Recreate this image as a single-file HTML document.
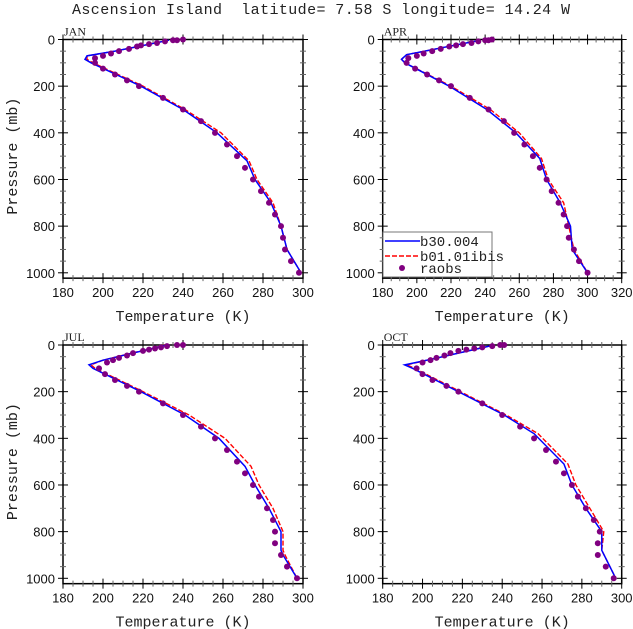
<!DOCTYPE html>
<html><head><meta charset="utf-8"><style>
body{margin:0;background:#fff;width:633px;height:629px;overflow:hidden}
svg{display:block}
</style></head><body>
<svg id="chart" width="633" height="629" xmlns="http://www.w3.org/2000/svg" font-family="Liberation Sans, sans-serif">
<text x="321" y="14" text-anchor="middle" font-family="Liberation Mono, monospace" font-size="15" fill="#222" style="white-space:pre" textLength="498" lengthAdjust="spacing">Ascension Island  latitude= 7.58 S longitude= 14.24 W</text>
</svg>
<script>
const months = ["JAN","APR","JUL","OCT"];
const tempMin = [180,180,180,180];
const tempMax = [300,320,300,300];
// raobs
const obsP = [
 [0,3,3,8,15,20,25,30,40,50,60,70,80,100,125,150,175,200,250,300,350,400,450,500,550,600,650,700,750,800,850,900,950,1000],
 [0,3,3,8,15,20,25,30,40,50,60,70,80,100,125,150,175,200,250,300,350,400,450,500,550,600,650,700,750,800,850,900,950,1000],
 [0,0,5,10,15,20,25,35,45,55,65,75,100,125,150,175,200,250,300,350,400,450,500,550,600,650,700,750,800,850,900,950,1000],
 [0,0,5,10,15,20,25,35,45,55,65,75,100,125,150,175,200,250,300,350,400,450,500,550,600,650,700,750,800,850,900,950,1000]
];
const obsT = [
 [240,237,235,231,227,223,219,217,213,208,204,200,196,196,200,206,212,218,230,240,249,256,262,267,271,275,279,283,286,289,290,291,294,298],
 [244,242,240,236,232,227,223,219,214,209,204,200,195,194,199,206,213,220,231,242,251,257,263,268,272,276,279,283,286,288,289,292,295,300],
 [240,237,232,229,226,223,220,215,212,208,205,202,198,201,206,212,218,230,240,249,256,262,267,271,275,278,282,285,286,286,289,292,297],
 [241,239,235,230,226,222,218,214,211,207,204,200,197,200,205,212,218,230,240,249,256,262,267,271,275,278,282,286,289,288,288,292,296]
];
// models
const modP = [
 [3,50,70,85,100,200,300,400,520,600,700,800,900,1000],
 [5,65,85,100,200,300,400,510,600,700,800,900,1000],
 [0,65,85,100,200,300,400,520,600,700,800,880,900,1000],
 [0,60,85,100,200,300,380,510,600,700,800,880,1000]
];
const blueT = [
 [233,206,192,191,194,219,240,257,272,276,284,289,292,299],
 [236,194,191,193,219,241,258,272,276,284,290,291,300],
 [232,200,193,195,219,241,258,271,276,283,289,289,290,297],
 [236,205,191,195,218,241,256,271,275,282,290,290,297]
];
const redT = [
 [233,206,192,192,195,220,241,259,273,277,285,289,292,299],
 [236,194,191,193,220,243,260,273,277,286,289,292,300],
 [231,200,194,196,220,243,261,274,278,285,290,290,291,297],
 [236,205,192,196,219,242,258,273,277,284,291,290,297]
];
const pTicks = [0,200,400,600,800,1000];

const svg = document.getElementById('chart');
const NS = "http://www.w3.org/2000/svg";
function mk(tag, attrs, parent){
  const e = document.createElementNS(NS, tag);
  for (const k in attrs) e.setAttribute(k, attrs[k]);
  (parent||svg).appendChild(e);
  return e;
}
const panels = [
 {x0:63, x1:303, y0:39.5},
 {x0:382.7, x1:621.7, y0:39.5},
 {x0:63, x1:303, y0:345},
 {x0:382.7, x1:621.7, y0:345}
];
const pScale = 0.2333;
panels.forEach((pn, i) => {
  const g = mk('g', {});
  
  
  const xs = t => pn.x0 + (t - tempMin[i]) / (tempMax[i] - tempMin[i]) * (pn.x1 - pn.x0);
  const ys = p => pn.y0 + p * pScale;
  const yb = ys(1023);
  const frame = mk('rect', {x:pn.x0, y:pn.y0, width:pn.x1-pn.x0, height:yb-pn.y0, fill:'none', stroke:'#000', 'stroke-width':1.5}, g);
  
  
  for (let t = tempMin[i]; t <= tempMax[i]; t += 5) {
    const major = (t % 20 === 0);
    const L = major ? 5 : 3;
    const x = xs(t);
    mk('line', {x1:x, x2:x, y1:yb-L, y2:yb+L, stroke: major?'#000':'#666', 'stroke-width':1}, g);
    mk('line', {x1:x, x2:x, y1:pn.y0-L, y2:pn.y0+L, stroke: major?'#000':'#666', 'stroke-width':1}, g);
    if (major) {
      const tl = mk('text', {x:x, y:yb+19, 'text-anchor':'middle', 'font-size':13, fill:'#111'}, g);
      tl.textContent = t;
      
      
    }
  }
  for (let p = 0; p <= 1000; p += 50) {
    const major = (p % 200 === 0);
    const L = major ? 5 : 3;
    const y = ys(p);
    mk('line', {x1:pn.x0-L, x2:pn.x0+L, y1:y, y2:y, stroke: major?'#000':'#666', 'stroke-width':1}, g);
    mk('line', {x1:pn.x1-L, x2:pn.x1+L, y1:y, y2:y, stroke: major?'#000':'#666', 'stroke-width':1}, g);
  }
  pTicks.forEach(p => {
    const tl = mk('text', {x:pn.x0-8, y:ys(p)+5, 'text-anchor':'end', 'font-size':13, fill:'#111'}, g);
    tl.textContent = p;
    
    
  });
  const ml = mk('text', {x:pn.x0+1, y:pn.y0-4, 'font-size':12, 'font-family':'Liberation Serif, serif', fill:'#222'}, g);
  ml.textContent = months[i];
  
  
  const xt = mk('text', {x:(pn.x0+pn.x1)/2, y:yb+43, 'text-anchor':'middle', 'font-size':15, 'font-family':'Liberation Mono, monospace', fill:'#222'}, g);
  xt.textContent = 'Temperature (K)';
  
  
  if (i % 2 === 0) {
    const cy = ys(500);
    const yt = mk('text', {x:0, y:0, transform:`translate(17,${cy}) rotate(-90)`, 'text-anchor':'middle', 'font-size':15, 'font-family':'Liberation Mono, monospace', fill:'#222'}, g);
    yt.textContent = 'Pressure (mb)';
    
    
  }
  const rp = mk('polyline', {points: modP[i].map((p,k)=>xs(redT[i][k])+','+ys(p)).join(' '), fill:'none', stroke:'#ff0000', 'stroke-width':1.4, 'stroke-dasharray':'5,2'}, g);
  
  
  const bp = mk('polyline', {points: modP[i].map((p,k)=>xs(blueT[i][k])+','+ys(p)).join(' '), fill:'none', stroke:'#0000ff', 'stroke-width':1.5}, g);
  
  
  obsP[i].forEach((p,k) => {
    const c = mk('circle', {cx:xs(obsT[i][k]), cy:ys(p), r:3, fill:'#800080'}, g);
    
    
  });
});
const lg = mk('g', {});


mk('rect', {x:383, y:232, width:109, height:45, fill:'#fff', stroke:'#777', 'stroke-width':1}, lg);
mk('line', {x1:385, x2:420, y1:241, y2:241, stroke:'#0000ff', 'stroke-width':1.5}, lg);
mk('line', {x1:385, x2:420, y1:256, y2:256, stroke:'#ff0000', 'stroke-width':1.4, 'stroke-dasharray':'5,2'}, lg);
mk('circle', {cx:402, cy:268, r:3, fill:'#800080'}, lg);
[['b30.004',246],['b01.01ibis',261],['raobs',273]].forEach(([s,y]) => {
  const t = mk('text', {x:420, y:y, 'font-size':14, 'font-family':'Liberation Mono, monospace', fill:'#222'}, lg);
  t.textContent = s;
  
  
});
</script>
</body></html>
